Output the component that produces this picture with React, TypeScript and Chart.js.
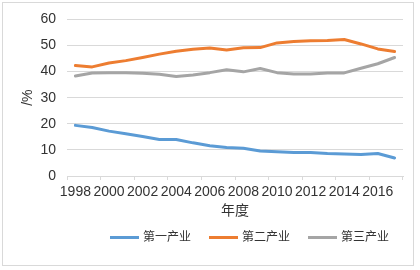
import React, { useEffect, useRef } from "react";
import { Chart, registerables } from "chart.js";

Chart.register(...registerables);

const years = ["1998","1999","2000","2001","2002","2003","2004","2005","2006","2007","2008","2009","2010","2011","2012","2013","2014","2015","2016","2017"];
const primary = [19.4, 18.6, 17.2, 16.2, 15.1, 14.0, 14.0, 12.7, 11.6, 10.9, 10.6, 9.6, 9.3, 9.0, 9.0, 8.6, 8.4, 8.2, 8.6, 6.9];
const secondary = [42.3, 41.8, 43.3, 44.2, 45.4, 46.7, 47.8, 48.6, 49.0, 48.3, 49.1, 49.2, 51.0, 51.5, 51.8, 51.9, 52.3, 50.6, 48.7, 47.7];
const tertiary = [38.3, 39.5, 39.6, 39.6, 39.4, 39.0, 38.1, 38.7, 39.6, 40.7, 39.9, 41.2, 39.6, 39.1, 39.1, 39.5, 39.5, 41.3, 43.0, 45.4];
const seriesNames = ["第一产业", "第二产业", "第三产业"];
const yTicks = [0, 10, 20, 30, 40, 50, 60];

const FONT = '"Liberation Sans", "Noto Sans CJK SC", Arial, sans-serif';
const TEXT = "#333333";
const GRID = "#D9D9D9";
const COLORS = ["#5B9BD5", "#ED7D31", "#A5A5A5"];

const frameAndLegend = {
  id: "frameAndLegend",
  beforeDraw(chart: any) {
    const { ctx } = chart;
    ctx.save();
    ctx.strokeStyle = GRID;
    ctx.lineWidth = 1;
    ctx.strokeRect(2.5, 2.5, 411, 263);
    ctx.restore();
  },
  afterDraw(chart: any) {
    const { ctx, chartArea } = chart;
    ctx.save();
    ctx.font = "12px " + FONT;
    ctx.textBaseline = "middle";
    ctx.textAlign = "left";
    const y = 237.5;
    let x = chartArea.left + 43;
    chart.data.datasets.forEach((ds: any) => {
      ctx.strokeStyle = ds.borderColor;
      ctx.lineWidth = 3;
      ctx.beginPath();
      ctx.moveTo(x, y);
      ctx.lineTo(x + 29, y);
      ctx.stroke();
      ctx.fillStyle = TEXT;
      ctx.fillText(ds.label, x + 33, y);
      const w = ctx.measureText(ds.label).width;
      x += 33 + w + 18;
    });
    ctx.restore();
  },
};

export default function App() {
  const ref = useRef<HTMLCanvasElement>(null);
  useEffect(() => {
    document.body.style.margin = "0";
    Chart.defaults.font.family = FONT;
    const chart = new Chart(ref.current!, {
      type: "line",
      data: {
        labels: years,
        datasets: [primary, secondary, tertiary].map((d, i) => ({
          label: seriesNames[i],
          data: d,
          borderColor: COLORS[i],
          backgroundColor: COLORS[i],
          borderWidth: 3,
          pointRadius: 0,
          tension: 0,
          borderJoinStyle: "round" as const,
          borderCapStyle: "round" as const,
        })),
      },
      options: {
        responsive: false,
        animation: false,
        layout: { padding: { left: 0, right: 17, top: 17, bottom: 44 } },
        plugins: {
          legend: { display: false },
          tooltip: { enabled: false },
        },
        scales: {
          x: {
            type: "category",
            offset: true,
            afterFit: (s: any) => { s.height = 50; },
            grid: {
              offset: true,
              drawOnChartArea: false,
              drawTicks: true,
              tickLength: 4,
              color: (c: any) => (c.index === undefined || c.index % 2 === 0 ? GRID : "rgba(0,0,0,0)"),
            },
            border: { display: true, color: GRID },
            ticks: {
              autoSkip: false,
              maxRotation: 0,
              minRotation: 0,
              padding: 4,
              color: TEXT,
              font: { size: 14, family: FONT },
              callback: (_v: any, idx: number) => (idx % 2 === 0 ? years[idx] : ""),
            },
            title: {
              display: true,
              text: "年度",
              color: TEXT,
              font: { size: 14, family: FONT },
              padding: { top: 0, bottom: 6 },
            },
          },
          y: {
            min: yTicks[0],
            max: yTicks[yTicks.length - 1],
            afterFit: (s: any) => { s.width = 67; },
            afterBuildTicks: (s: any) => { s.ticks = yTicks.map((v) => ({ value: v })); },
            grid: { color: GRID, drawTicks: false, lineWidth: 1 },
            border: { display: false },
            ticks: {
              padding: 11,
              color: TEXT,
              font: { size: 14, family: FONT },
            },
            title: {
              display: true,
              text: "/%",
              color: TEXT,
              font: { size: 14, family: FONT },
              padding: { top: 20, bottom: 0 },
            },
          },
        },
      },
      plugins: [frameAndLegend],
    });
    return () => chart.destroy();
  }, []);
  return (
    <div style={{ width: 420, height: 270 }}>
      <canvas ref={ref} width={420} height={270} />
    </div>
  );
}
